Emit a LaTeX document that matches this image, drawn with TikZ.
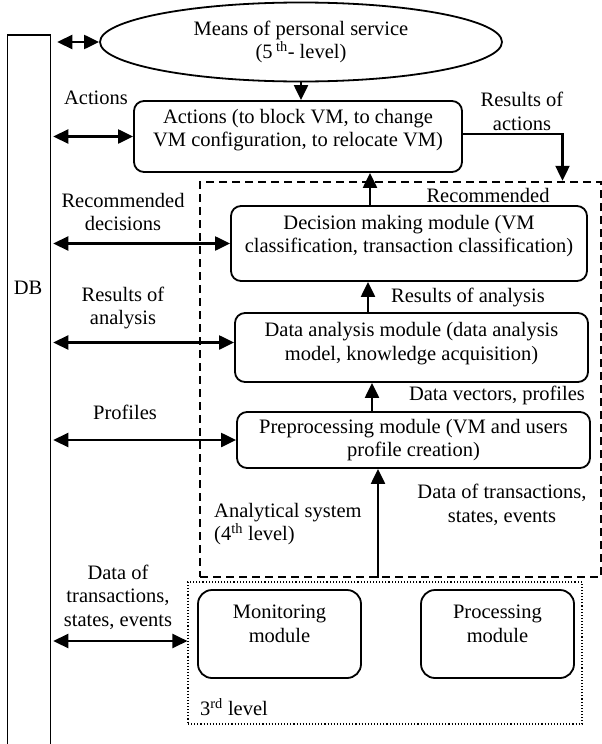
\documentclass[tikz,border=0pt]{standalone}
\usepackage{fontspec}
\setmainfont{Liberation Serif}
\usetikzlibrary{shapes.geometric,arrows.meta}
\begin{document}
\begin{tikzpicture}[x=1pt,y=-1pt, every node/.style={font=\fontsize{20.5}{23.5}\selectfont},
  modbox/.style={draw,rounded corners=10pt,line width=1.8pt,inner sep=0pt},
  lbl/.style={align=center,inner sep=0pt},
  arr/.style={line width=2.2pt,-{Triangle[length=15pt,width=14pt]}},
  dbl/.style={line width=2.2pt,{Triangle[length=15pt,width=14pt]}-{Triangle[length=15pt,width=14pt]}}]
\useasboundingbox (0,0) rectangle (602,744);
% storage column and 5th level
\node[draw,line width=1.5pt,minimum width=43pt,minimum height=715pt,inner sep=0pt] (db) at (29,392.5) {};
\node[lbl] (dblbl) at (28,288) {DB};
\node[ellipse,draw,line width=1.8pt,minimum width=402pt,minimum height=79pt,inner sep=0pt,align=center] (svc) at (301,42) {Means of personal service\\(5\,\textsuperscript{th}- level)};
\node[modbox,minimum width=328pt,minimum height=71pt] (act) at (298,136.5) {};
\node[lbl] (acttxt) at (298,130) {Actions (to block VM, to change\\VM configuration, to relocate VM)};
% analytical system (4th level)
\node[draw,dash pattern=on 8pt off 5pt,line width=2.4pt,minimum width=401pt,minimum height=395pt,inner sep=0pt] (anl) at (400.5,379.5) {};
\node[modbox,minimum width=356pt,minimum height=75pt] (dec) at (409,243.5) {};
\node[lbl] (dectxt) at (409,236) {Decision making module (VM\\classification, transaction classification)};
\node[modbox,minimum width=353pt,minimum height=69pt] (ana) at (411.5,347.5) {};
\node[lbl] (anatxt) at (411.5,343.5) {Data analysis module (data analysis\\model, knowledge acquisition)};
\node[modbox,minimum width=353pt,minimum height=56pt] (pre) at (413.5,440) {};
\node[lbl] (pretxt) at (413.5,440) {Preprocessing module (VM and users\\profile creation)};
% 3rd level
\node[draw,dotted,line width=1.1pt,minimum width=394pt,minimum height=142pt,inner sep=0pt] (lvl3) at (385,653) {};
\node[modbox,rounded corners=14pt,minimum width=163pt,minimum height=88pt] (mon) at (279.5,634) {};
\node[lbl] (montxt) at (279.5,624) {Monitoring\\module};
\node[modbox,rounded corners=14pt,minimum width=153pt,minimum height=88pt] (proc) at (497.5,634) {};
\node[lbl] (proctxt) at (497.5,624) {Processing\\module};
% connectors
\coordinate (spine) at (370,0);
\draw[dbl] ([xshift=6pt]db.east |- svc.west) -- (svc.west);
\draw[dbl] ([xshift=2pt]db.east |- act.west) -- (act.west);
\draw[dbl] ([xshift=2pt]db.east |- dec.west) -- (dec.west);
\draw[dbl] ([xshift=2pt,yshift=5pt]db.east |- ana.west) -- ([yshift=5pt]ana.west);
\draw[dbl] ([xshift=2pt]db.east |- pre.west) -- (pre.west);
\draw[dbl] ([xshift=2pt,yshift=12pt]db.east |- lvl3.west) -- ([yshift=12pt]lvl3.west);
\draw[arr] (svc.south) -- (svc.south |- act.north);
\draw[arr] (spine |- dec.north) -- (spine |- act.south);
\draw[arr] ([xshift=-2pt]spine |- ana.north) -- ([xshift=-2pt]spine |- dec.south);
\draw[arr] ([xshift=2pt]spine |- pre.north) -- ([xshift=2pt]spine |- ana.south);
\draw[arr] ([xshift=8pt]spine |- anl.south) -- ([xshift=8pt]spine |- pre.south);
\draw[arr] ([yshift=2.5pt]act.east) -| ([xshift=162pt]anl.north);
% labels
\node[lbl] (l1) at (96,98) {Actions};
\node[lbl] (l2) at (522,111.5) {Results of\\actions};
\node[lbl] (l3) at (488,195) {Recommended};
\node[lbl] (l4) at (123,212) {Recommended\\decisions};
\node[lbl] (l5) at (123,308) {Results of\\analysis};
\node[lbl] (l6) at (468,297) {Results of analysis};
\node[lbl] (l7) at (497,395) {Data vectors, profiles};
\node[lbl] (l8) at (125,412) {Profiles};
\node[lbl] (l9) at (502,505) {Data of transactions,\\states, events};
\node[lbl,align=left,anchor=west] (l10) at (214,524) {Analytical system\\(4\textsuperscript{th} level)};
\node[lbl] (l11) at (118,597) {Data of\\transactions,\\states, events};
\node[lbl,anchor=west] (l12) at (200,707) {3\textsuperscript{rd} level};
\end{tikzpicture}
\end{document}
